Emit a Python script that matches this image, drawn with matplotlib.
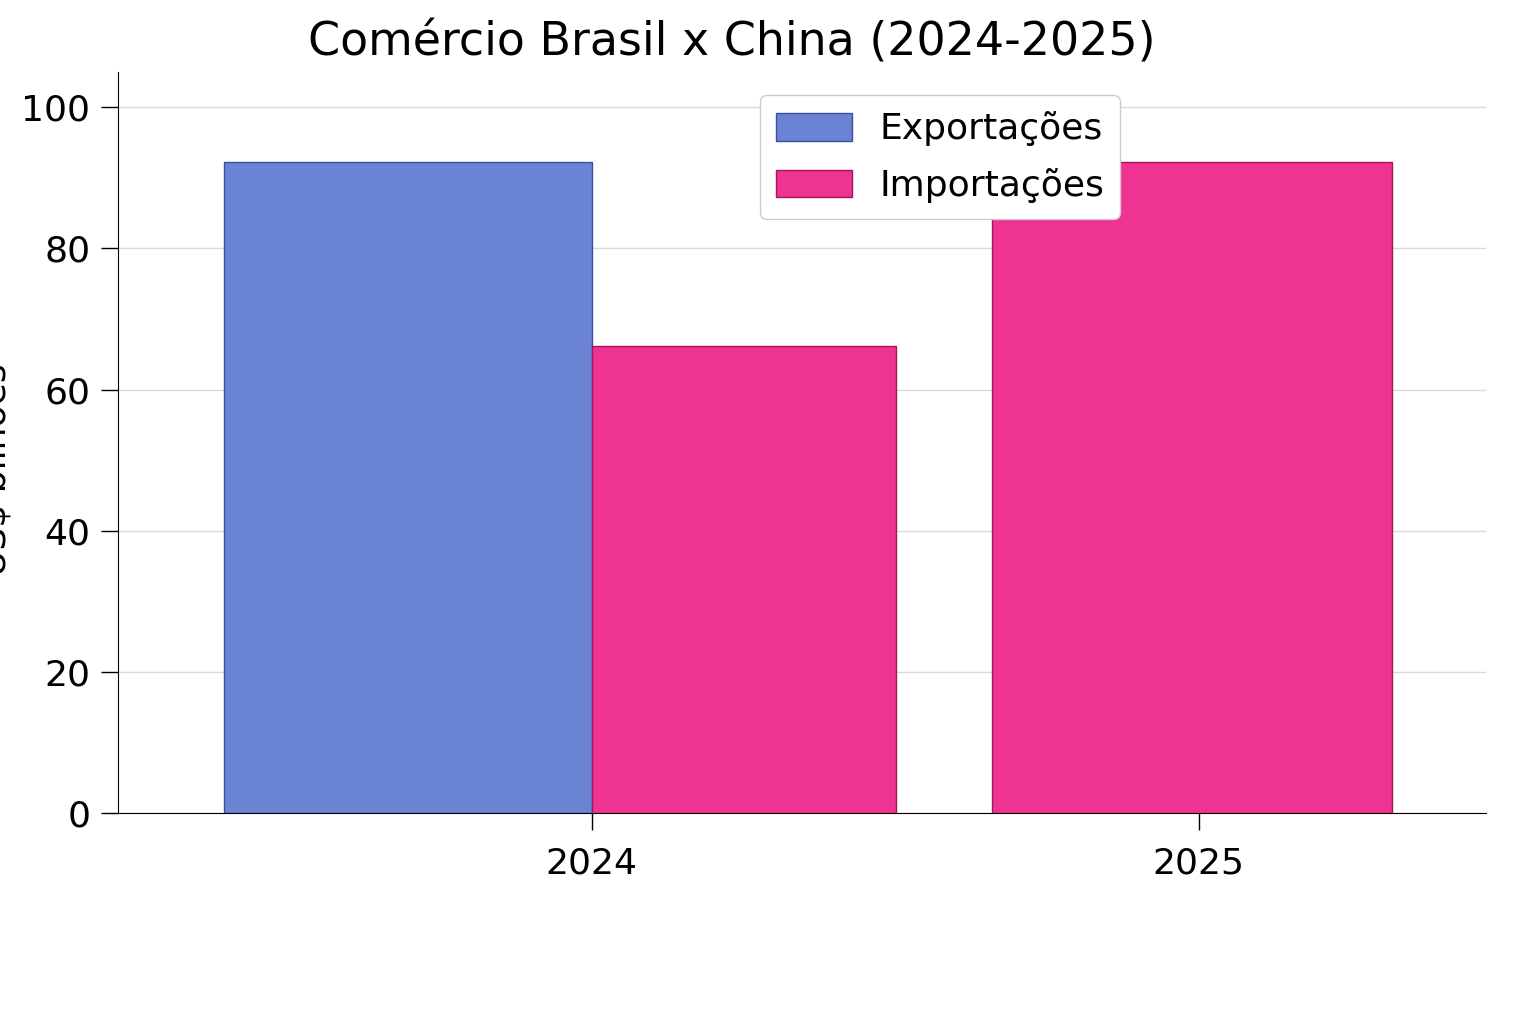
import matplotlib
matplotlib.use("Agg")
import matplotlib.pyplot as plt
import numpy as np

years = ["2024", "2025"]
exportacoes = [92.3, np.nan]
importacoes = [66.2, 92.2]
yticks = [0, 20, 40, 60, 80, 100]

plt.rcParams['font.family'] = ['DejaVu Sans']
fig = plt.figure(figsize=(15.36, 10.24), dpi=100)
ax = fig.add_axes([118/1536, 1 - 813/1024, (1486-118)/1536, (813-72)/1024])

x = np.arange(len(years))
# bar geometry (styling)
exp_w = [-0.605, -0.605]
imp_left = [0.0, -0.341]
imp_w = [0.502, 0.659]

ax.bar(x, exportacoes, width=exp_w, align='edge', color='#6a83d3',
       edgecolor='#3a4fa0', linewidth=1.0, label='Exportações', zorder=3)
ax.bar(x + np.array(imp_left), importacoes, width=imp_w, align='edge',
       color='#ef3393', edgecolor='#a0185a', linewidth=1.0, label='Importações', zorder=3)

ax.set_xlim(-0.78, 1.473)
ax.set_ylim(0, 105)
ax.set_yticks(yticks)
ax.set_xticks(x)
ax.set_xticklabels(years)
ax.tick_params(axis='both', labelsize=26, length=12, width=1, pad=8)
ax.tick_params(axis='x', pad=12)
ax.grid(axis='y', color='#d9d9d9', linewidth=1, zorder=0)
ax.spines['top'].set_visible(False)
ax.spines['right'].set_visible(False)
ax.set_ylabel('US$ bilhões', fontsize=26)
ax.yaxis.set_label_coords(-0.077, 0.463)

ax.set_title('Comércio Brasil x China (2024-2025)', fontsize=33, pad=12,
             x=(732-118)/1368)
leg = ax.legend(loc='upper left', bbox_to_anchor=(0.456, 0.993), fontsize=26,
                handlelength=2.1, handleheight=0.8, handletextpad=0.75,
                borderpad=0.45, labelspacing=0.6, framealpha=1, edgecolor='#cccccc')

fig.savefig('out.png', dpi=100)
